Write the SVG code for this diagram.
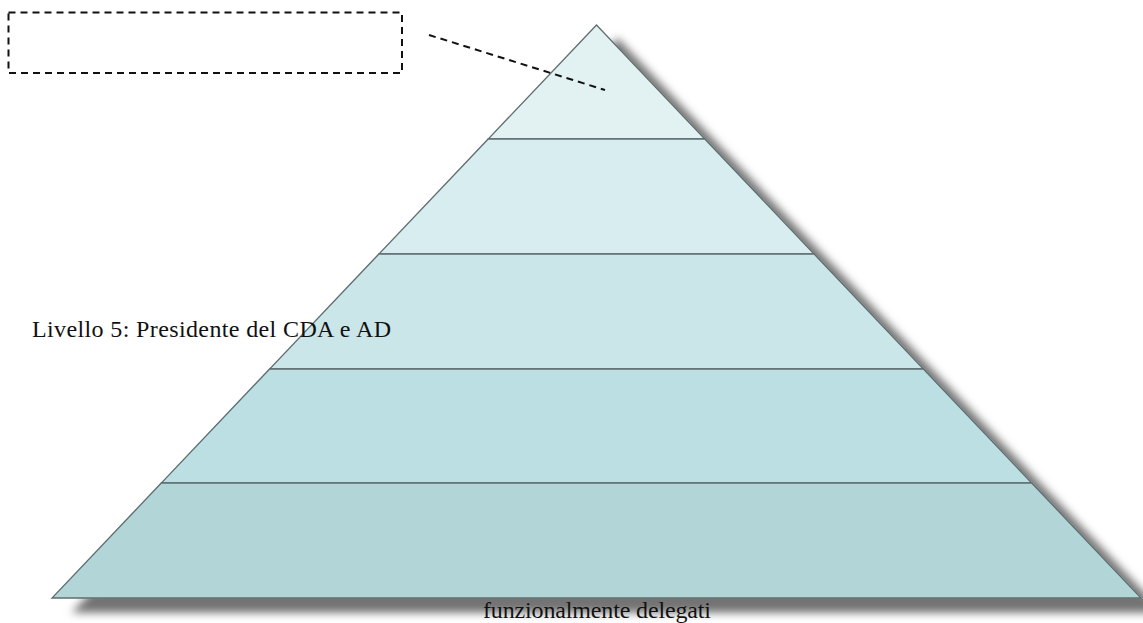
<svg xmlns="http://www.w3.org/2000/svg" width="1143" height="623" viewBox="0 0 1143 623">
<style>
.band{stroke:#5f6d70;stroke-width:1.3;stroke-linejoin:miter}
.lbl{font-family:"Liberation Serif","Times New Roman",serif;font-size:24px;fill:#111}
.dash{fill:none;stroke:#111;stroke-width:2;stroke-dasharray:7,5}
</style>
<defs>
<filter id="sh" x="-10%" y="-10%" width="130%" height="130%">
<feDropShadow dx="21" dy="14" stdDeviation="4" flood-color="#000" flood-opacity="0.55"/>
</filter>
</defs>
<rect width="1143" height="623" fill="#fff"/>
<g id="pyramid" filter="url(#sh)">
<g id="level1"><polygon class="band" fill="#e2f2f3" points="596.5,25 704.8,139 488.2,139"/></g>
<g id="level2"><polygon class="band" fill="#d8edf0" points="488.2,139 704.8,139 814.1,254 378.9,254"/></g>
<g id="level3"><polygon class="band" fill="#cbe6e9" points="378.9,254 814.1,254 923.4,369 269.6,369"/></g>
<g id="level4"><polygon class="band" fill="#bbdfe2" points="269.6,369 923.4,369 1031.7,483 161.3,483"/></g>
<g id="level5"><polygon class="band" fill="#b2d5d7" points="161.3,483 1031.7,483 1141,598 52,598"/></g>
</g>
<g id="callout"><rect x="8.5" y="12.5" width="393.5" height="60.5" class="dash"/></g>
<g id="connectors"><line x1="429" y1="35" x2="605" y2="90" class="dash"/></g>
<g id="label-livello5"><text class="lbl" x="32" y="337" textLength="359">Livello 5: Presidente del CDA e AD</text></g>
<g id="label-delegati"><text class="lbl" x="483" y="618" textLength="228">funzionalmente delegati</text></g>
</svg>
